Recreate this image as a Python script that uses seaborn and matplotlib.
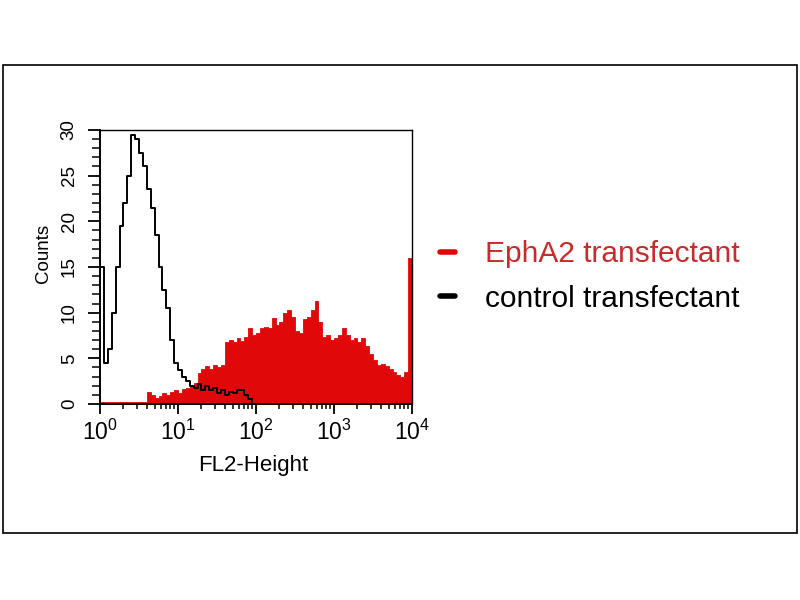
import numpy as np
import matplotlib
matplotlib.use('Agg')
import matplotlib.pyplot as plt
from matplotlib.lines import Line2D
from matplotlib.patches import Rectangle
from matplotlib.ticker import LogLocator, MultipleLocator, NullFormatter
import seaborn as sns

# FL2 channels: 80 log-spaced bins over 10^0 .. 10^4
n_bins = 80
log_range = (0, 4)
bin_centers = 10 ** ((np.arange(n_bins) + 0.5) * (log_range[1] - log_range[0]) / n_bins)

# counts per bin
epha2_counts = [
    0.25, 0.25, 0.25, 0.25, 0.25, 0.25, 0.25, 0.25, 0.25, 0.25,
    0.25, 0.25, 1.3, 1.0, 0.6, 0.9, 1.2, 1.0, 1.3, 1.5,
    1.2, 1.6, 1.8, 2.0, 2.3, 3.4, 3.8, 4.2, 3.8, 4.3,
    4.0, 4.3, 6.8, 7.0, 6.8, 7.2, 6.9, 7.3, 8.3, 7.5,
    7.8, 8.3, 8.4, 8.3, 9.4, 8.6, 9.0, 10.0, 10.3, 9.5,
    8.0, 7.8, 9.3, 9.5, 10.3, 11.3, 9.0, 7.3, 7.5, 7.0,
    7.2, 7.5, 8.3, 7.6, 7.0, 7.2, 6.8, 7.2, 6.3, 5.5,
    4.8, 4.3, 4.4, 4.2, 3.8, 3.5, 3.2, 3.0, 3.5, 16.0,
]
control_counts = [
    15.0, 4.5, 6.0, 10.0, 15.0, 19.5, 22.0, 25.0, 29.5, 29.0,
    27.5, 26.0, 23.5, 21.5, 18.5, 15.0, 12.5, 10.5, 7.0, 4.5,
    3.7, 3.0, 2.5, 2.0, 1.8, 2.2, 1.5, 2.0, 1.5, 1.8,
    1.2, 1.5, 1.0, 1.3, 1.2, 1.5, 1.5, 1.0, 0.5, 0,
    0, 0, 0, 0, 0, 0, 0, 0, 0, 0,
    0, 0, 0, 0, 0, 0, 0, 0, 0, 0,
    0, 0, 0, 0, 0, 0, 0, 0, 0, 0,
    0, 0, 0, 0, 0, 0, 0, 0, 0, 0,
]
legend_labels = ['EphA2 transfectant', 'control transfectant']

red = '#e00808'
sns.set_style('ticks')
plt.rcParams['font.family'] = ['Liberation Sans', 'DejaVu Sans']
plt.rcParams['mathtext.default'] = 'regular'
for key in ['text.color', 'axes.labelcolor', 'xtick.color', 'ytick.color']:
    plt.rcParams[key] = 'black'

fig = plt.figure(figsize=(8, 6), dpi=100)
ax = fig.add_axes([0.125, 0.3267, 0.39, 0.4567])

# EphA2 filled histogram, control as outline on top
sns.histplot(x=bin_centers, weights=epha2_counts, bins=n_bins, binrange=log_range,
             log_scale=True, element='step', fill=True, color=red, alpha=1,
             linewidth=0.6, edgecolor=red, ax=ax)
sns.histplot(x=bin_centers, weights=control_counts, bins=n_bins, binrange=log_range,
             log_scale=True, element='step', fill=False, color='black',
             linewidth=1.4, ax=ax)

ax.set_xlim(1, 1e4)
ax.set_ylim(0, 30)
ax.xaxis.set_major_locator(LogLocator(base=10, numticks=10))
ax.xaxis.set_minor_locator(LogLocator(base=10, subs=np.arange(2, 10), numticks=20))
ax.xaxis.set_minor_formatter(NullFormatter())
ax.yaxis.set_major_locator(MultipleLocator(5))
ax.yaxis.set_minor_locator(MultipleLocator(1))

for s in ax.spines.values():
    s.set_linewidth(1.0)
    s.set_color('black')
ax.spines['left'].set_linewidth(1.4)
ax.spines['bottom'].set_linewidth(1.4)

ax.tick_params(axis='x', which='major', direction='out', length=7, width=1.3,
               labelsize=16.5, pad=4)
ax.tick_params(axis='x', which='minor', direction='out', length=3.5, width=1.1)
ax.tick_params(axis='y', which='major', direction='out', length=9, width=1.3,
               labelsize=13.5, pad=7)
ax.tick_params(axis='y', which='minor', direction='out', length=5.5, width=1.1)
for lbl in ax.get_yticklabels():
    lbl.set_rotation(90)
    lbl.set_va('center')

ax.set_xlabel('FL2-Height', fontsize=16)
ax.set_ylabel('Counts', fontsize=13.5)
ax.xaxis.set_label_coords(0.49, -0.185)
ax.yaxis.set_label_coords(-0.155, 0.55)

handles = [Line2D([], [], color=red, lw=4), Line2D([], [], color='black', lw=4)]
leg = ax.legend(handles, legend_labels, loc='center left', bbox_to_anchor=(0.55, 0.539),
                bbox_transform=fig.transFigure, frameon=False, fontsize=21.5,
                handlelength=0.5, handletextpad=1.0, labelspacing=0.55,
                borderpad=0, borderaxespad=0)
leg.get_texts()[0].set_color('#c92a2a')
leg.get_texts()[1].set_color('black')

# outer frame around the whole panel
fig.add_artist(Rectangle((3 / 800, 67 / 600), 794 / 800, 468 / 600,
                         transform=fig.transFigure, fill=False, lw=1.2, ec='black'))

fig.savefig('out.png', dpi=100)
